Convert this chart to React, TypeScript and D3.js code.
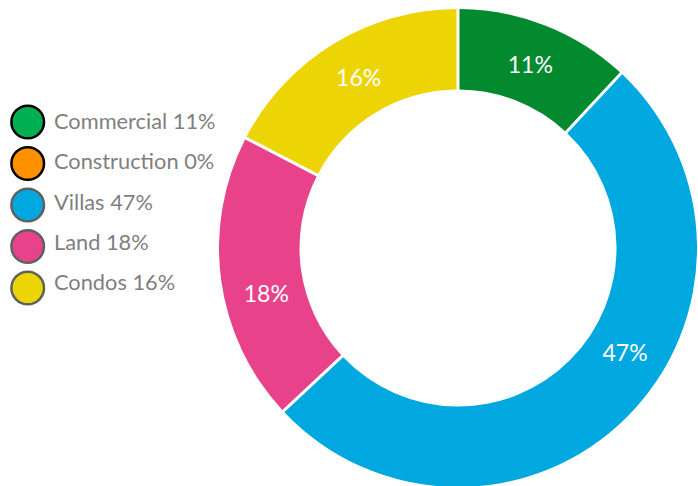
import React from "react";
import * as d3 from "d3";

const categories = ["Commercial", "Construction", "Villas", "Land", "Condos"];
const values = [11, 0, 47, 18, 16];
const sliceColors = ["#03892E", "#FF9000", "#00A8E0", "#E8438A", "#EDD505"];
const legendColors = ["#00B050", "#FF9000", "#00A8E0", "#E8438A", "#EDD505"];
const legendStrokes = ["#000000", "#000000", "#606060", "#606060", "#606060"];
// small angular nudges (degrees) for label placement, as in the reference
const labelNudge = [0, 0, -13, -5.5, 1];

const W = 698;
const H = 486;
const cx = 458;
const cy = 248;
const outerR = 239;
const innerR = 158.5;

export default function App() {
  const data = categories.map((c, i) => ({ name: c, value: values[i], i }));
  const pie = d3.pie<any>().sort(null).value((d: any) => d.value);
  const arcs = pie(data);
  const arcGen = d3
    .arc<any>()
    .innerRadius(innerR)
    .outerRadius(outerR)
    .padAngle(3 / 200)
    .padRadius(200);

  const labelR = 197;

  return (
    <svg
      width={W}
      height={H}
      style={{ position: "absolute", left: 0, top: 0, display: "block", background: "#fff" }}
    >
      <g transform={`translate(${cx},${cy})`}>
        {arcs.map((a: any) =>
          a.endAngle > a.startAngle ? (
            <path key={a.data.name} d={arcGen(a) || ""} fill={sliceColors[a.data.i]} />
          ) : null
        )}
        {arcs.map((a: any) => {
          if (a.data.value <= 0) return null;
          const mid = (a.startAngle + a.endAngle) / 2 + (labelNudge[a.data.i] * Math.PI) / 180;
          const x = labelR * Math.sin(mid);
          const y = -labelR * Math.cos(mid);
          return (
            <text
              key={"l" + a.data.name}
              x={x}
              y={y + 8.3}
              textAnchor="middle"
              fill="#ffffff"
              fontFamily="Lato, 'Open Sans', sans-serif"
              fontSize={23}
            >
              {`${a.data.value}%`}
            </text>
          );
        })}
      </g>
      <g>
        {categories.map((c, i) => (
          <g key={"lg" + c}>
            <circle
              cx={27.7}
              cy={122 + i * 41.5}
              r={16.3}
              fill={legendColors[i]}
              stroke={legendStrokes[i]}
              strokeWidth={2.5}
            />
            <text
              x={54}
              y={121.5 + i * 40.25 + 7.5}
              fill="#7F7F7F"
              fontFamily="Lato, 'Open Sans', sans-serif"
              fontSize={21.8}
            >
              {`${c} ${values[i]}%`}
            </text>
          </g>
        ))}
      </g>
    </svg>
  );
}
